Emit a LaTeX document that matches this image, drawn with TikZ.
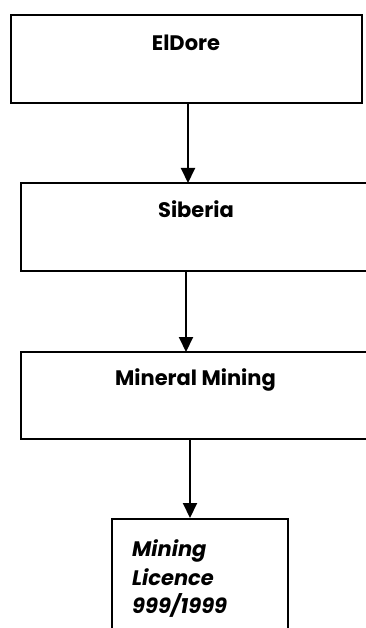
\documentclass[tikz,border=0pt]{standalone}
\usepackage{fontspec}
\setmainfont{Poppins}
\usetikzlibrary{arrows.meta}
\tikzset{
  box/.style={draw=black, line width=1.6pt, inner sep=0pt},
  conn/.style={line width=2pt, -{Triangle[width=14pt,length=15pt]}},
  lbl/.style={font=\bfseries\fontsize{21}{24}\selectfont, inner sep=0pt, anchor=base},
  ilbl/.style={font=\bfseries\itshape\fontsize{21}{24}\selectfont, inner sep=0pt, anchor=base west},
}
\begin{document}
\begin{tikzpicture}[x=1pt,y=-1pt]
\useasboundingbox (0,0) rectangle (366,628);
\clip (0,0) rectangle (366,628);
% boxes
\node[box, minimum width=351pt, minimum height=88pt] (b1) at (186.5,59) {};
\node[box, minimum width=350pt, minimum height=88pt] (b2) at (196,227) {};
\node[box, minimum width=350pt, minimum height=87pt] (b3) at (196,395.5) {};
\node[box, minimum width=176pt, minimum height=130pt, anchor=north west] (b4) at (111,518) {};
% labels
\node[lbl] (t1) at (186,51) {ElDore};
\node[lbl] (t2) at (196,217) {Siberia};
\node[lbl] (t3) at (195.5,385) {Mineral Mining};
\node[ilbl] (t4a) at (132,556) {Mining};
\node[ilbl] (t4b) at (132,585) {Licence};
\node[ilbl] (t4c) at (132,613) {999/1999};
% connectors
\coordinate (a1) at (188,103);
\coordinate (a1e) at (188,183);
\coordinate (a2) at (186,271);
\coordinate (a2e) at (186,352);
\coordinate (a3) at (190,439);
\coordinate (a3e) at (190,518);
\draw[conn] (a1) -- (a1e);
\draw[conn] (a2) -- (a2e);
\draw[conn] (a3) -- (a3e);
\end{tikzpicture}
\end{document}
